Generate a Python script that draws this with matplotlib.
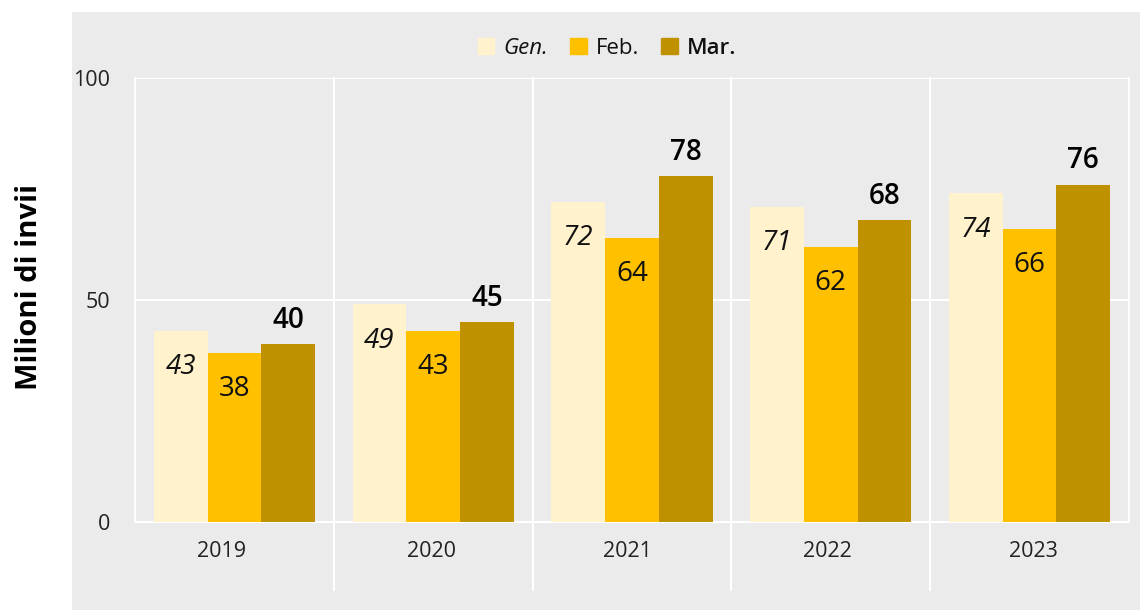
import numpy as np
import matplotlib.pyplot as plt
from matplotlib.patches import Rectangle, Patch

plt.rcParams['font.family'] = ['Open Sans', 'DejaVu Sans']

years = ['2019', '2020', '2021', '2022', '2023']
gen = [43, 49, 72, 71, 74]
feb = [38, 43, 64, 62, 66]
mar = [40, 45, 78, 68, 76]
yticks = [0, 50, 100]

grey = '#EBEBEB'
c_gen = '#FFF2CC'
c_feb = '#FFC000'
c_mar = '#BF9000'

fig = plt.figure(figsize=(11.4, 6.1), dpi=100)
fig.patches.append(Rectangle((72 / 1140, 0), 1, 1 - 12 / 610, transform=fig.transFigure,
                             facecolor=grey, edgecolor='none', zorder=-10))
ax = fig.add_axes([135 / 1140, 88 / 610, 994 / 1140, 444 / 610])
ax.set_facecolor(grey)

x = np.arange(len(years))
w = 0.27
ax.bar(x - w, gen, w, color=c_gen, zorder=3)
ax.bar(x, feb, w, color=c_feb, zorder=3)
ax.bar(x + w, mar, w, color=c_mar, zorder=3)

for xi, v in zip(x - w, gen):
    ax.annotate(str(v), (xi, v), xytext=(0, -26), textcoords='offset points',
                ha='center', va='center', fontsize=20, style='italic', color='#111111', zorder=4)
for xi, v in zip(x, feb):
    ax.annotate(str(v), (xi, v), xytext=(0, -26), textcoords='offset points',
                ha='center', va='center', fontsize=20, color='#111111', zorder=4)
for xi, v in zip(x + w, mar):
    ax.annotate(str(v), (xi, v), xytext=(0, 17), textcoords='offset points',
                ha='center', va='center', fontsize=20, fontweight='semibold', color='black', zorder=4)

ax.set_xlim(-0.5, len(years) - 0.5)
ax.set_ylim(0, 100)
ax.set_yticks(yticks)
# first year label sits a little left of its group centre, as in the original
label_shift = np.array([-13, -2, -5, -3, 4]) / 199
ax.set_xticks(x + label_shift)
ax.set_xticklabels(years)
ax.tick_params(length=0, labelsize=15.5, labelcolor='#222222')
ax.tick_params(axis='y', pad=18)
ax.tick_params(axis='x', pad=14)
ax.yaxis.grid(True, color='white', linewidth=1.5, zorder=1)
ax.set_axisbelow(True)

for s in ax.spines.values():
    s.set_color('white')
    s.set_linewidth(1.5)
ax.spines['top'].set_visible(False)

# separators between years, running below the axis
for xs in x[:-1] + 0.5:
    ax.plot([xs, xs], [-0.153, 1], color='white', linewidth=1.5,
            transform=ax.get_xaxis_transform(), clip_on=False, zorder=1)

ax.set_ylabel('Milioni di invii', fontsize=21, fontweight='bold')
ax.yaxis.set_label_coords(-0.092, 0.53)

handles = [Patch(color=c_gen), Patch(color=c_feb), Patch(color=c_mar)]
leg = fig.legend(handles, ['Gen.', 'Feb.', 'Mar.'], loc='center', ncol=3,
                 bbox_to_anchor=(607 / 1140, 1 - 48 / 610), frameon=False, fontsize=16,
                 handlelength=0.75, handleheight=0.75, handletextpad=0.4, columnspacing=1.0)
texts = leg.get_texts()
texts[0].set_style('italic')
texts[2].set_fontweight('semibold')
for t in texts:
    t.set_color('#111111')

fig.savefig('out.png', dpi=100)
